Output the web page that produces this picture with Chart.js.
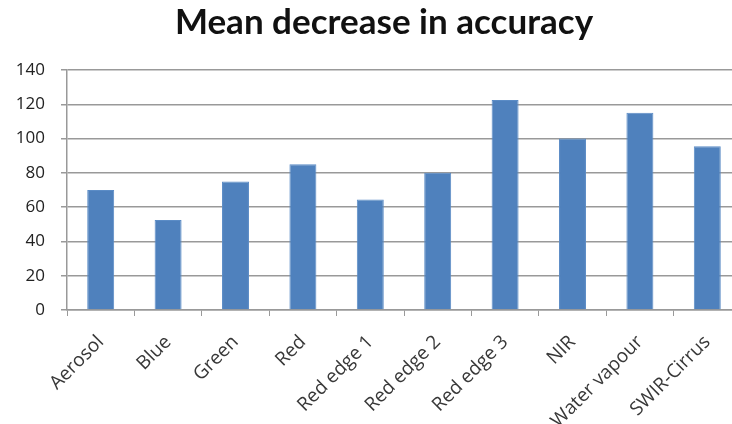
<!DOCTYPE html>
<html>
<head>
<meta charset="utf-8">
<script src="https://cdn.jsdelivr.net/npm/chart.js@4"></script>
<style>
  html, body { margin: 0; padding: 0; background: #fff; overflow: hidden; }
  /* canvas is a bit wider than the window so the last category gets clipped */
  #wrap { width: 741px; height: 424px; }
</style>
</head>
<body>
<div id="wrap"><canvas id="chart"></canvas></div>
<script>
const bands = ['Aerosol', 'Blue', 'Green', 'Red', 'Red edge 1', 'Red edge 2', 'Red edge 3', 'NIR', 'Water vapour', 'SWIR-Cirrus'];
const meanDecrease = [70, 52.5, 75, 85, 64.5, 80, 122.5, 100, 115, 95.5];
const yTicks = [0, 20, 40, 60, 80, 100, 120, 140];
const chartTitle = 'Mean decrease in accuracy';

// title sits a little right of the canvas centre, so draw it by hand
const titlePlugin = {
    id: 'titleText',
    afterDraw(chart) {
        const c = chart.ctx;
        c.save();
        c.font = 'bold 35px Lato';
        c.fillStyle = '#111';
        c.textAlign = 'center';
        c.textBaseline = 'alphabetic';
        c.fillText(chartTitle, 384, 34);
        c.restore();
    }
};

const ctx = document.getElementById('chart').getContext('2d');

new Chart(ctx, {
    type: 'bar',
    data: {
        labels: bands,
        datasets: [{
            label: chartTitle,
            data: meanDecrease,
            backgroundColor: '#4f81bd',
            borderColor: '#5b8cc6',
            borderWidth: 1,
            barPercentage: 0.4,
            categoryPercentage: 1
        }]
    },
    options: {
        responsive: true,
        maintainAspectRatio: false,
        animation: false,
        layout: { padding: { left: 0, right: 0, top: 70, bottom: 0 } },
        plugins: {
            legend: { display: false },
            tooltip: { enabled: false },
            title: { display: false }
        },
        scales: {
            x: {
                grid: {
                    drawOnChartArea: false,
                    drawTicks: true,
                    tickLength: 6,
                    color: '#999'
                },
                border: { color: '#999', width: 1.5 },
                ticks: {
                    color: '#383838',
                    font: { family: 'Open Sans', size: 19 },
                    maxRotation: 45,
                    minRotation: 45,
                    padding: 15
                },
                afterFit: function (scale) { scale.height = 114; }
            },
            y: {
                min: 0,
                max: 140,
                afterBuildTicks: function (scale) {
                    scale.ticks = yTicks.map(v => ({ value: v }));
                },
                grid: {
                    color: '#999',
                    lineWidth: 1.5,
                    drawTicks: true,
                    tickLength: 6
                },
                border: { color: '#999', width: 1.5 },
                ticks: {
                    color: '#222',
                    font: { family: 'Open Sans', size: 17 },
                    padding: 16
                },
                afterFit: function (scale) { scale.width = 67; }
            }
        }
    },
    plugins: [titlePlugin]
});
</script>
</body>
</html>
